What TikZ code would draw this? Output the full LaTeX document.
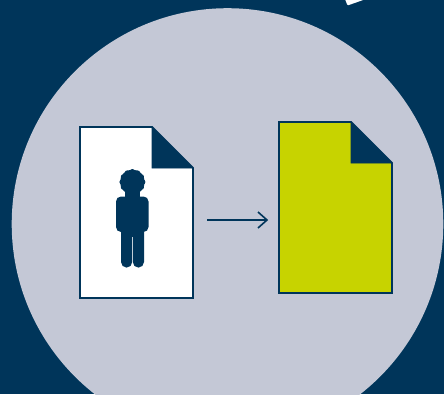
\documentclass[tikz,border=0pt]{standalone}
\usepackage{xcolor}
\definecolor{navy}{HTML}{00355A}
\definecolor{paleblue}{HTML}{C4C8D6}
\definecolor{lime}{HTML}{C7D300}
\tikzset{
  page/.style={draw=navy, line width=1.9pt, line join=miter},
  fold/.style={fill=navy, draw=navy, line width=0.6pt, line join=miter},
  figure/.style={fill=navy},
  link/.style={draw=navy, line width=1.6pt},
}
\begin{document}
\begin{tikzpicture}[x=1pt, y=-1pt]
  \useasboundingbox (0,0) rectangle (444,394);
  \clip (0,0) rectangle (444,394);
  \fill[navy] (0,0) rectangle (444,394);
  \fill[white, rounded corners=1pt] (345,-1) -- (347.5,5.5) -- (366,-1) -- cycle;
  \fill[paleblue] (227.5,224) circle (215.8);
  % left page
  \draw[page, fill=white] (80,127) -- (152,127) -- (193,168) -- (193,298) -- (80,298) -- cycle;
  \draw[fold] (152,127) -- (193,168) -- (152,168) -- cycle;
  % person
  \fill[figure] (132.4,182) circle (12.4);
  \foreach \a in {0,30,...,330}
    \fill[figure] (132.4,182) ++(\a:10.6) circle (2.4);
  \fill[figure] (125,190) rectangle (140,199);
  \fill[figure, rounded corners=5pt] (116,196.5) rectangle (148.5,232);
  \fill[figure] (121,226) -- (132.2,226) -- (132.2,262) arc[start angle=0, end angle=-180, x radius=5.6, y radius=-5.6] -- cycle;
  \fill[figure] (132.8,226) -- (144,226) -- (144,262) arc[start angle=0, end angle=-180, x radius=5.6, y radius=-5.6] -- cycle;
  \fill[figure] (121,226) rectangle (144,237);
  % right page
  \draw[page, fill=lime] (279,122) -- (351,122) -- (392,163) -- (392,293) -- (279,293) -- cycle;
  \draw[fold] (351,122) -- (392,163) -- (351,163) -- cycle;
  % arrow
  \coordinate (from) at (207,220);
  \coordinate (to) at (267,220);
  \draw[link] (from) -- (to);
  \draw[link] (258,212) -- (to) -- (258,228);
\end{tikzpicture}
\end{document}
